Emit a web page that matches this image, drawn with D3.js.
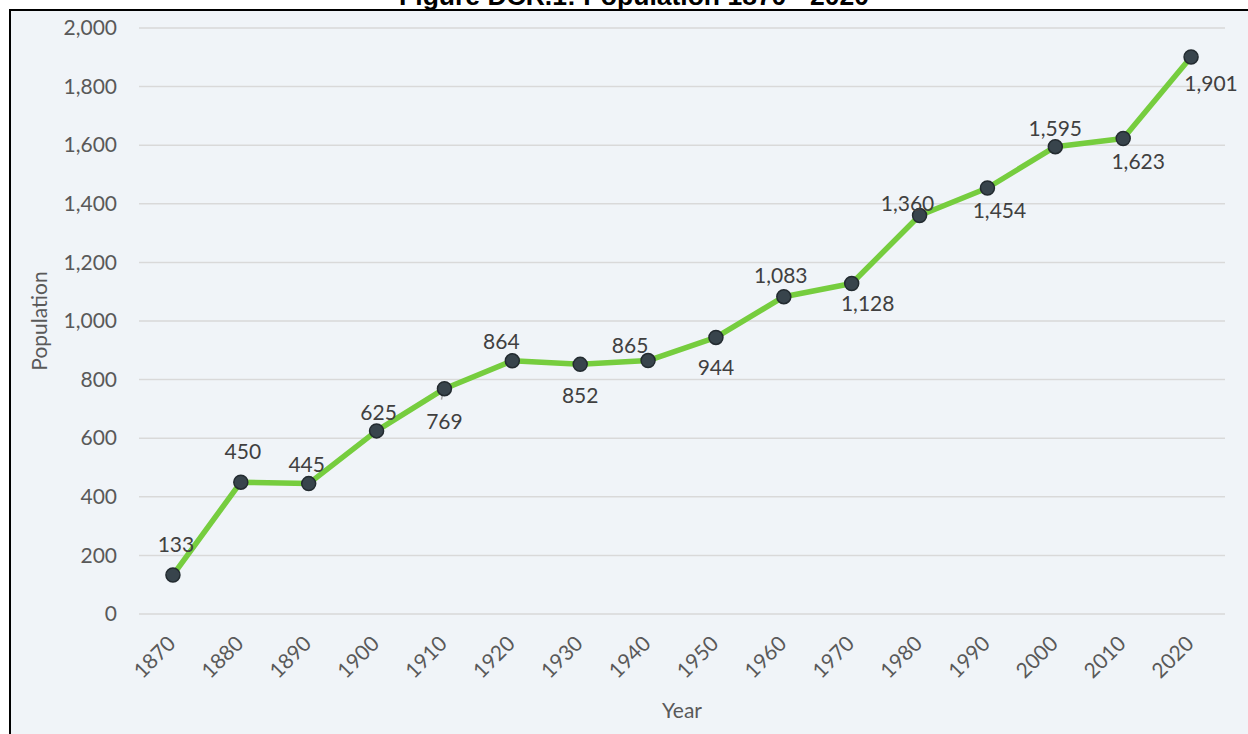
<!DOCTYPE html>
<html>
<head>
<meta charset="utf-8">
<script src="https://cdn.jsdelivr.net/npm/d3@7/dist/d3.min.js"></script>
<style>
  html, body { margin: 0; padding: 0; background: #ffffff; }
  svg { display: block; }
</style>
</head>
<body>
<svg id="chart" width="1248" height="734"></svg>
<script>
const years = ["1870","1880","1890","1900","1910","1920","1930","1940","1950","1960","1970","1980","1990","2000","2010","2020"];
const population = [133, 450, 445, 625, 769, 864, 852, 865, 944, 1083, 1128, 1360, 1454, 1595, 1623, 1901];
const yTicks = [0, 200, 400, 600, 800, 1000, 1200, 1400, 1600, 1800, 2000];
const title = "Figure DCR.1: Population 1870 - 2020";
const xTitle = "Year";
const yTitle = "Population";
// data label placement relative to each point (dx, dy), as positioned in the original
const labelOffsets = [[3,-32],[2,-32],[-2,-20],[2,-19],[0,32],[-11,-20],[0,30],[-18,-16],[0,29],[-3,-22],[16,19],[-12,-13],[12,22],[0,-19],[15,22],[20,25]];

const svg = d3.select("#chart");
const W = 1248, H = 734;
const plot = {left: 139, right: 1225, top: 28, bottom: 614};
const font = "Lato, 'Open Sans', sans-serif";

// background panel with border
svg.append("rect").attr("x", 10).attr("y", 10).attr("width", W + 40).attr("height", H + 40)
  .attr("fill", "#f0f4f8").attr("stroke", "#000").attr("stroke-width", 2);

// title (partially cut off at the top)
svg.append("text").attr("x", 634).attr("y", 5).attr("text-anchor", "middle")
  .attr("font-family", "'Liberation Sans', Arial, sans-serif").attr("font-weight", "bold")
  .attr("font-size", 26.5).attr("fill", "#000").text(title);

const x = d3.scaleBand().domain(years).range([plot.left, plot.right]);
const cx = d => x(d) + x.bandwidth() / 2;
const y = d3.scaleLinear().domain([0, 2000]).range([plot.bottom, plot.top]);

// gridlines
svg.append("g").selectAll("line").data(yTicks).join("line")
  .attr("x1", plot.left).attr("x2", plot.right)
  .attr("y1", d => y(d)).attr("y2", d => y(d))
  .attr("stroke", "#d9d9d9").attr("stroke-width", 1.5);

// y axis labels
const yAxis = svg.append("g").attr("transform", `translate(${plot.left},0)`)
  .call(d3.axisLeft(y).tickValues(yTicks).tickFormat(d3.format(",")).tickSize(0).tickPadding(22));
yAxis.select(".domain").remove();
yAxis.selectAll("text").attr("font-family", font).attr("font-size", 21).attr("fill", "#595959");

// x axis labels
const xAxis = svg.append("g").attr("transform", `translate(0,${plot.bottom})`)
  .call(d3.axisBottom(x).tickSize(0));
xAxis.select(".domain").remove();
xAxis.selectAll("text")
  .attr("font-family", font).attr("font-size", 21).attr("fill", "#595959")
  .attr("text-anchor", "end").attr("dy", null).attr("y", 0)
  .attr("transform", "translate(4,31) rotate(-45)");

// axis titles
svg.append("text").attr("x", (plot.left + plot.right) / 2).attr("y", 709)
  .attr("text-anchor", "middle").attr("dominant-baseline", "central")
  .attr("font-family", font).attr("font-size", 21).attr("fill", "#595959").text(xTitle);
svg.append("text").attr("transform", `translate(38,${(plot.top + plot.bottom) / 2}) rotate(-90)`)
  .attr("text-anchor", "middle").attr("dominant-baseline", "central")
  .attr("font-family", font).attr("font-size", 21).attr("fill", "#595959").text(yTitle);

const pts = years.map((yr, i) => ({yr, v: population[i], off: labelOffsets[i]}));

// line
svg.append("path").datum(pts)
  .attr("d", d3.line().x(d => cx(d.yr)).y(d => y(d.v)))
  .attr("fill", "none").attr("stroke", "#76cd3e").attr("stroke-width", 5.5)
  .attr("stroke-linejoin", "round");

// leader line for 1910 label
const p1910 = pts[4];
svg.append("line")
  .attr("x1", cx(p1910.yr) - 1).attr("y1", y(p1910.v) + 2)
  .attr("x2", cx(p1910.yr) - 3).attr("y2", y(p1910.v) + 11)
  .attr("stroke", "#a6a6a6").attr("stroke-width", 1.5);

// markers
svg.append("g").selectAll("circle").data(pts).join("circle")
  .attr("cx", d => cx(d.yr)).attr("cy", d => y(d.v)).attr("r", 7)
  .attr("fill", "#38444c").attr("stroke", "#232b30").attr("stroke-width", 1.5);

// data labels
svg.append("g").selectAll("text").data(pts).join("text")
  .attr("x", d => cx(d.yr) + d.off[0]).attr("y", d => y(d.v) + d.off[1])
  .attr("text-anchor", "middle").attr("dominant-baseline", "central")
  .attr("font-family", font).attr("font-size", 21).attr("fill", "#404040")
  .text(d => d3.format(",")(d.v));
</script>
</body>
</html>
